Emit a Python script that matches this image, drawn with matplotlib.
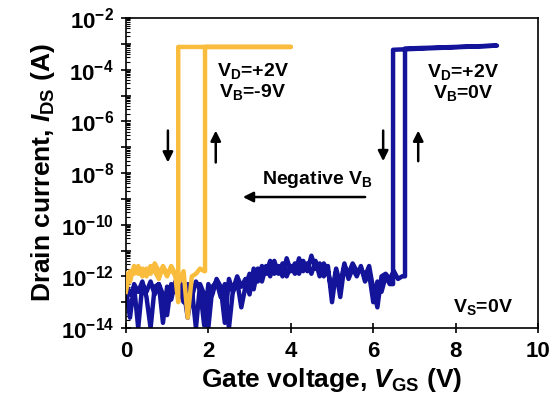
import numpy as np
import matplotlib
matplotlib.use("Agg")
import matplotlib.pyplot as plt
from matplotlib.ticker import LogLocator, FixedLocator, FuncFormatter, NullFormatter

plt.rcParams['font.family'] = 'Liberation Sans'
plt.rcParams['font.weight'] = 'bold'
plt.rcParams['mathtext.fontset'] = 'custom'
plt.rcParams['mathtext.rm'] = 'Liberation Sans:bold'
plt.rcParams['mathtext.it'] = 'Liberation Sans:italic:bold'
plt.rcParams['mathtext.bf'] = 'Liberation Sans:bold'

# V_B = 0 V (blue): forward sweep off-state, log10(I)
blue_fwd_v = np.round(np.arange(0, 6.75, 0.1), 2)
blue_fwd_log = [-12.4, -13.6, -12.3, -12.6, -12.2, -12.8, -14.0, -12.4, -12.3, -12.7,
                -13.5, -12.3, -12.6, -12.2, -12.5, -13.6, -12.5, -14.0, -12.3, -12.7,
                -14.0, -12.4, -12.2, -12.8, -12.3, -14.0, -12.5, -12.0, -12.4, -12.1,
                -12.7, -11.7, -12.2, -11.6, -11.9, -11.4, -11.9, -11.6, -12.0, -11.3,
                -11.8, -11.5, -11.9, -11.4, -11.8, -11.2, -11.7, -11.5, -12.0, -11.6,
                -13.0, -11.8, -12.8, -11.6, -11.9, -11.5, -11.8, -11.7, -12.0, -11.6,
                -12.5, -13.2, -12.0, -11.9, -12.1, -11.8, -12.1, -12.0]
# backward sweep off-state (6.4 V down to 0 V)
blue_bwd_v = np.round(np.arange(6.4, -0.05, -0.1), 2)
blue_bwd_log = [-12.3, -12.0, -12.6, -12.2, -13.0, -11.9, -12.2, -11.6, -12.0, -11.7,
                -12.1, -11.5, -12.3, -11.7, -12.6, -11.8, -11.5, -12.0, -11.4, -11.9,
                -11.5, -11.8, -11.3, -11.9, -11.6, -12.0, -11.5, -11.9, -11.4, -12.0,
                -11.6, -12.2, -11.7, -12.5, -11.9, -12.4, -13.2, -12.2, -12.6, -12.1,
                -13.8, -12.4, -12.1, -12.7, -12.3, -13.9, -12.5, -12.2, -12.8, -12.3,
                -13.0, -12.5, -12.2, -12.9, -12.4, -13.8, -12.3, -12.7, -12.2, -12.6,
                -12.3, -14.0, -12.4, -12.7, -12.3]
blue_on_v = [6.77, 9.0]       # up-switch point, sweep end
blue_off_v = 6.48             # down-switch point
blue_on_log = [-3.18, -3.07]

# V_B = -9 V (orange)
orange_fwd_v = np.round(np.arange(0, 1.95, 0.1), 2)
orange_fwd_log = [-12.6, -11.8, -11.9, -11.6, -12.0, -11.7, -11.9, -11.5, -11.8, -11.7,
                  -12.0, -11.6, -11.9, -12.2, -11.8, -13.6, -12.0, -11.9, -11.7, -11.8]
orange_bwd_v = [1.27, 1.2, 1.1, 1.0, 0.9, 0.8, 0.7, 0.6, 0.5, 0.4, 0.3, 0.2, 0.1, 0.0]
orange_bwd_log = [-13.0, -12.0, -11.7, -11.9, -11.6, -12.1, -11.8, -11.6, -12.0, -11.7,
                  -11.9, -11.6, -12.2, -11.9]
orange_on_v = [1.92, 4.0]
orange_off_v = 1.27
orange_on_log = [-3.12, -3.12]

blue = '#14149A'
orange = '#F9BC3C'

fig = plt.figure(figsize=(5.52, 4.09), dpi=100)
ax = fig.add_axes([0.228, 0.198, 0.747, 0.758])

# blue loop
bx = list(blue_fwd_v) + [blue_on_v[0], blue_on_v[0], blue_on_v[1], blue_off_v, blue_off_v] + list(blue_bwd_v)
by = blue_fwd_log + [blue_fwd_log[-1], blue_on_log[0], blue_on_log[1], blue_on_log[0] - 0.05, blue_bwd_log[0]] + blue_bwd_log
ax.plot(bx, 10.0 ** np.array(by), color=blue, lw=3.2, zorder=2, solid_joinstyle='round')

# orange loop
ox = list(orange_fwd_v) + [orange_on_v[0], orange_on_v[0], orange_on_v[1], orange_off_v] + orange_bwd_v
oy = orange_fwd_log + [orange_fwd_log[-1], orange_on_log[0], orange_on_log[1], orange_on_log[0]] + orange_bwd_log
ax.plot(ox, 10.0 ** np.array(oy), color=orange, lw=3.2, zorder=3, solid_joinstyle='round')

ax.set_yscale('log')
ax.set_xlim(0, 10)
ax.set_ylim(1e-14, 1e-2)

ax.yaxis.set_major_locator(FixedLocator([10.0 ** k for k in range(-14, -1)]))
ax.yaxis.set_major_formatter(FuncFormatter(
    lambda v, p: r'$\mathbf{10^{-%d}}$' % -round(np.log10(v)) if round(np.log10(v)) % 2 == 0 else ''))
ax.yaxis.set_minor_locator(LogLocator(base=10, subs=np.arange(2, 10), numticks=30))
ax.yaxis.set_minor_formatter(NullFormatter())
ax.set_xticks([0, 2, 4, 6, 8, 10])

ax.tick_params(which='major', direction='inout', length=7, width=1.2, labelsize=16)
ax.tick_params(axis='x', which='major', pad=6)
ax.tick_params(axis='y', which='major', pad=5)
ax.tick_params(which='minor', direction='in', length=3, width=0.8)
for s in ax.spines.values():
    s.set_linewidth(1.2)

ax.set_xlabel(r'Gate voltage, $\mathit{V}_{\mathrm{GS}}$ (V)', fontsize=19, fontweight='bold', labelpad=3)
ax.set_ylabel(r'Drain current, $\mathit{I}_{\mathrm{DS}}$ (A)', fontsize=19, fontweight='bold', labelpad=3)

fs = 14
ax.text(3.08, 10 ** -4.45, '$\\mathrm{V_D}$=+2V\n$\\mathrm{V_B}$=-9V', ha='center', va='center',
        fontsize=fs, fontweight='bold', linespacing=1.05)
ax.text(8.18, 10 ** -4.5, '$\\mathrm{V_D}$=+2V\n$\\mathrm{V_B}$=0V', ha='center', va='center',
        fontsize=fs, fontweight='bold', linespacing=1.05)
ax.text(4.66, 10 ** -8.27, 'Negative $\\mathrm{V_B}$', ha='center', va='center', fontsize=fs, fontweight='bold')
ax.text(8.65, 10 ** -13.2, '$\\mathrm{V_S}$=0V', ha='center', va='center', fontsize=fs, fontweight='bold')

arrow = dict(arrowstyle='-|>', color='black', lw=1.8, mutation_scale=15)
ax.annotate('', xy=(1.02, 10 ** -7.7), xytext=(1.02, 10 ** -6.25), arrowprops=arrow)
ax.annotate('', xy=(2.18, 10 ** -6.25), xytext=(2.18, 10 ** -7.7), arrowprops=arrow)
ax.annotate('', xy=(6.24, 10 ** -7.65), xytext=(6.24, 10 ** -6.25), arrowprops=arrow)
ax.annotate('', xy=(7.09, 10 ** -6.25), xytext=(7.09, 10 ** -7.65), arrowprops=arrow)
ax.annotate('', xy=(2.77, 10 ** -8.93), xytext=(5.87, 10 ** -8.93), arrowprops=arrow)

fig.savefig('out.png', dpi=100)
